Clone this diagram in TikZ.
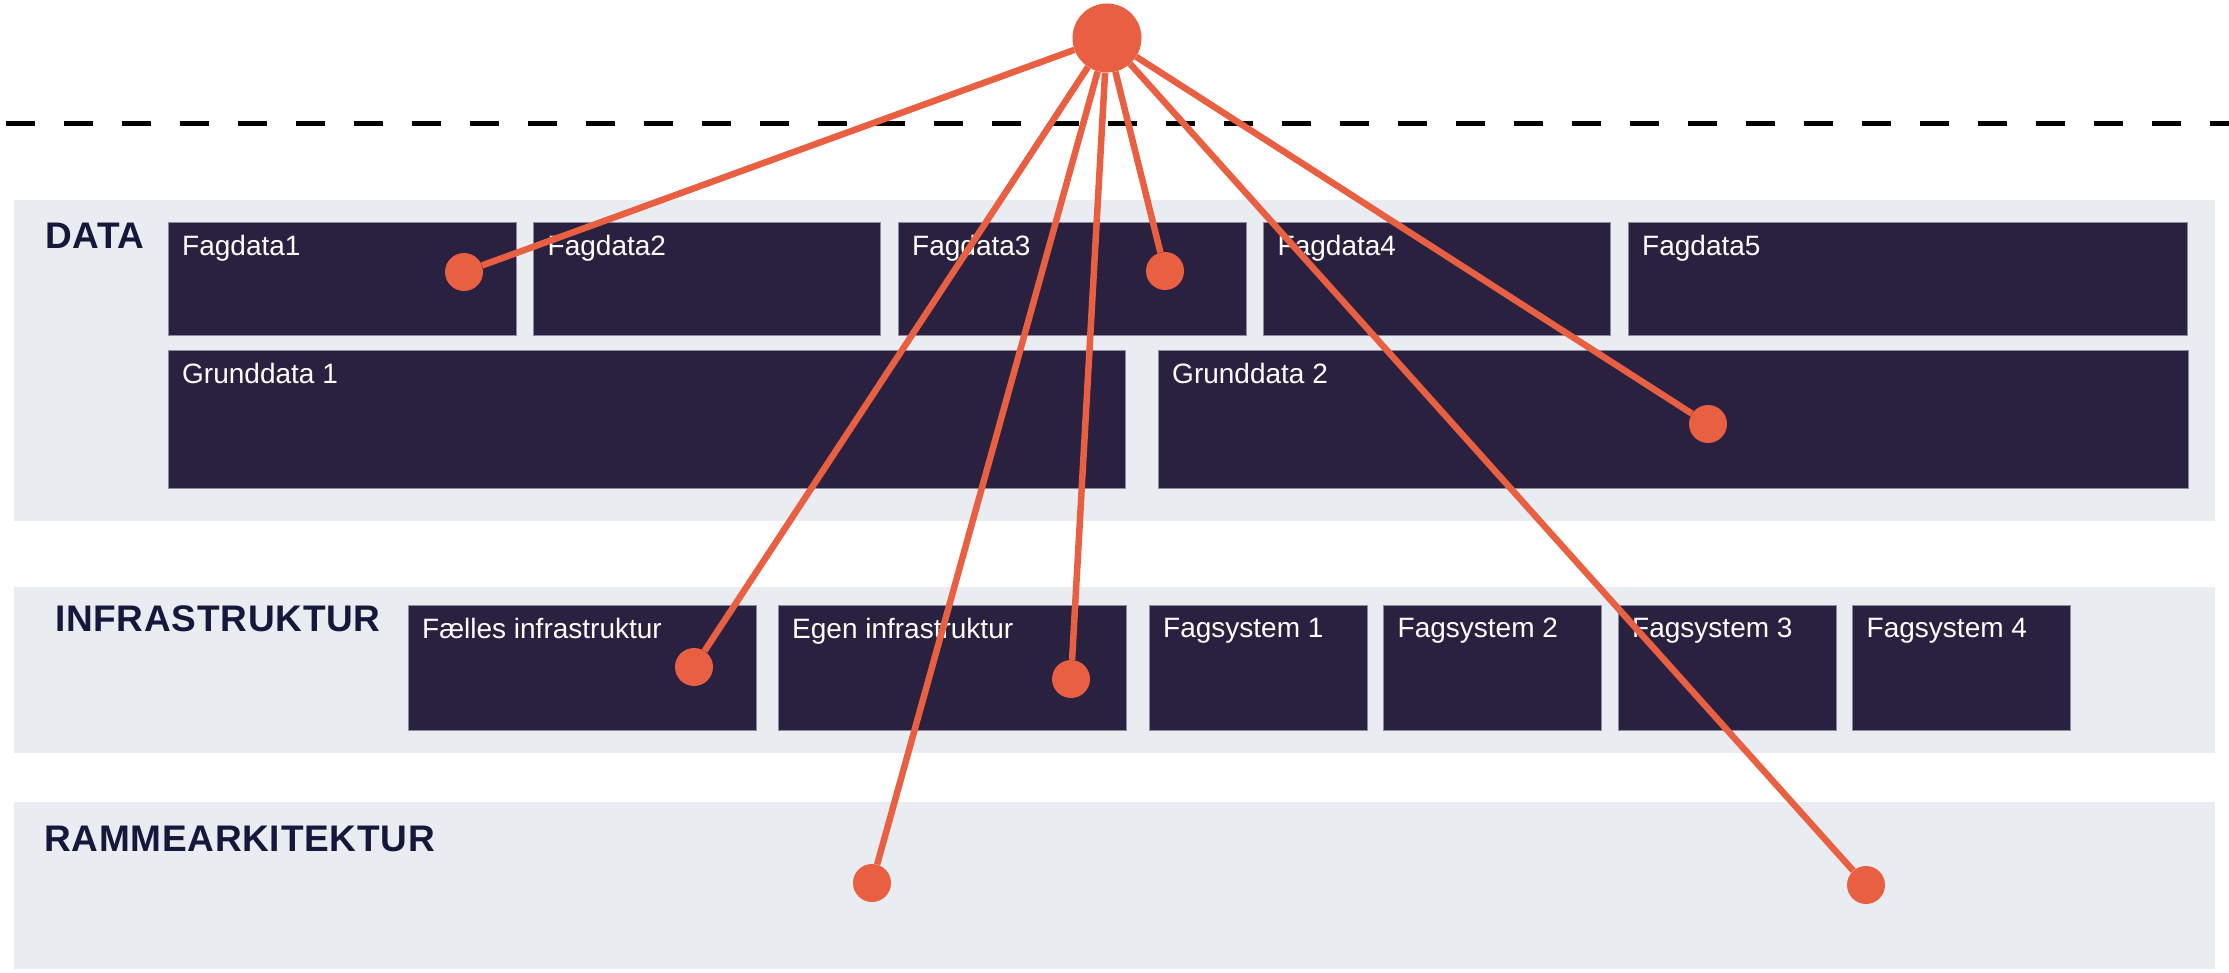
\documentclass[tikz,border=0pt]{standalone}
\usepackage{fontspec}
\setmainfont{Liberation Sans}
\usetikzlibrary{positioning}
\definecolor{layerbg}{HTML}{E9ECF1}
\definecolor{tilebg}{HTML}{2A2140}
\definecolor{tileedge}{HTML}{8E8AA0}
\definecolor{spokecol}{HTML}{E95F41}
\definecolor{labelcol}{HTML}{16173A}
\tikzstyle{layer} = [rectangle, fill=layerbg, minimum width=2201pt, anchor=north west, inner sep=0pt, outer sep=0pt]
\tikzstyle{tile} = [rectangle, fill=tilebg, draw=tileedge, line width=0.8pt, anchor=north west, inner sep=0pt, outer sep=0pt]
\tikzstyle{tiletext} = [anchor=north west, inner sep=0pt, text=white, font=\fontsize{28}{32}\selectfont, xshift=14pt, yshift=-13pt]
\tikzstyle{layertext} = [anchor=north west, inner sep=0pt, text=labelcol, font=\fontsize{37}{42}\selectfont\bfseries\addfontfeature{LetterSpace=2}]
\tikzstyle{dot} = [circle, fill=spokecol, minimum size=38pt, inner sep=0pt]
\tikzstyle{spoke} = [draw=spokecol, line width=6.5pt]

\begin{document}
\begin{tikzpicture}[x=1pt, y=-1pt, node distance=17.5pt]
	\useasboundingbox (0,0) rectangle (2229,973);
	
	%dashed border
	\draw[black, line width=5pt, dash pattern=on 29pt off 29pt] (6,123.5) -- (2229,123.5);
	
	%layers
	\node[layer, minimum height=321pt] (data) at (14,200) {};
	\node[layer, minimum height=166pt] (infra) at (14,587) {};
	\node[layer, minimum height=167pt] (ramme) at (14,802) {};
	\node[layertext] (datalbl) at (45,223) {DATA};
	\node[layertext] (infralbl) at (55,605) {INFRASTRUKTUR};
	\node[layertext] (rammelbl) at (44,826) {RAMMEARKITEKTUR};
	
	%data tiles
	\node[tile, minimum width=348pt, minimum height=113pt, label={[tiletext]north west:Fagdata1}] (fag1) at (168,222) {};
	\node[tile, minimum width=347pt, minimum height=113pt, right=of fag1, label={[tiletext]north west:Fagdata2}] (fag2) {};
	\node[tile, minimum width=348pt, minimum height=113pt, right=of fag2, label={[tiletext]north west:Fagdata3}] (fag3) {};
	\node[tile, minimum width=347pt, minimum height=113pt, right=of fag3, label={[tiletext]north west:Fagdata4}] (fag4) {};
	\node[tile, minimum width=559pt, minimum height=113pt, right=of fag4, label={[tiletext]north west:Fagdata5}] (fag5) {};
	\node[tile, minimum width=957pt, minimum height=138pt, label={[tiletext]north west:Grunddata 1}] (grund1) at (168,350) {};
	\node[tile, minimum width=1030pt, minimum height=138pt, right=33pt of grund1, label={[tiletext]north west:Grunddata 2}] (grund2) {};
	
	%infrastructure tiles
	\node[tile, minimum width=348pt, minimum height=125pt, label={[tiletext]north west:Fælles infrastruktur}] (faelles) at (408,605) {};
	\node[tile, minimum width=348pt, minimum height=125pt, right=22pt of faelles, label={[tiletext]north west:Egen infrastruktur}] (egen) {};
	\node[tile, minimum width=218pt, minimum height=125pt, right=23pt of egen, label={[tiletext]north west:Fagsystem 1}] (sys1) {};
	\node[tile, minimum width=218pt, minimum height=125pt, right=16.5pt of sys1, label={[tiletext]north west:Fagsystem 2}] (sys2) {};
	\node[tile, minimum width=218pt, minimum height=125pt, right=16.5pt of sys2, label={[tiletext]north west:Fagsystem 3}] (sys3) {};
	\node[tile, minimum width=218pt, minimum height=125pt, right=16.5pt of sys3, label={[tiletext]north west:Fagsystem 4}] (sys4) {};
	
	%dots
	\node[dot, minimum size=69pt] (hub) at (1107,38) {};
	\node[dot] (d1) at (464,272) {};
	\node[dot] (d2) at (1165,271) {};
	\node[dot] (d3) at (1708,424) {};
	\node[dot] (d4) at (694,667) {};
	\node[dot] (d5) at (1071,679) {};
	\node[dot] (d6) at (872,883) {};
	\node[dot] (d7) at (1866,885) {};
	
	%spokes
	\draw[spoke] (hub) -- (d1);
	\draw[spoke] (hub) -- (d2);
	\draw[spoke] (hub) -- (d3);
	\draw[spoke] (hub) -- (d4);
	\draw[spoke] (hub) -- (d5);
	\draw[spoke] (hub) -- (d6);
	\draw[spoke] (hub) -- (d7);
	
	%	
\end{tikzpicture}
\end{document}
